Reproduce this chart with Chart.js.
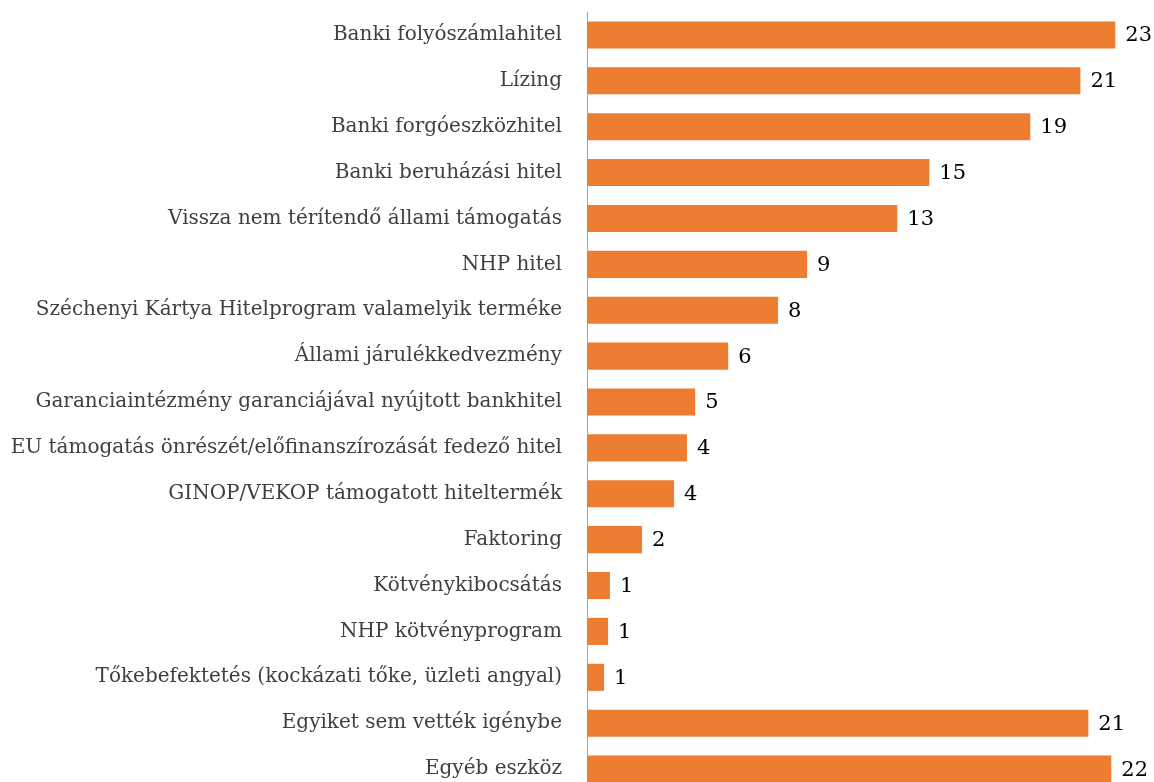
<!DOCTYPE html>
<html>
<head>
<meta charset="utf-8">
<script src="https://cdn.jsdelivr.net/npm/chart.js@4"></script>
<style>
  html, body { margin: 0; padding: 0; background: #fff; overflow: hidden; }
  #wrap { width: 1154px; height: 804px; }
</style>
</head>
<body>
<div id="wrap"><canvas id="chart" width="1154" height="804"></canvas></div>
<script>
// categories, top to bottom
const categories = [
  'Banki folyószámlahitel',
  'Lízing',
  'Banki forgóeszközhitel',
  'Banki beruházási hitel',
  'Vissza nem térítendő állami támogatás',
  'NHP hitel',
  'Széchenyi Kártya Hitelprogram valamelyik terméke',
  'Állami járulékkedvezmény',
  'Garanciaintézmény garanciájával nyújtott bankhitel',
  'EU támogatás önrészét/előfinanszírozását fedező hitel',
  'GINOP/VEKOP támogatott hiteltermék',
  'Faktoring',
  'Kötvénykibocsátás',
  'NHP kötvényprogram',
  'Tőkebefektetés (kockázati tőke, üzleti angyal)',
  'Egyiket sem vették igénybe',
  'Egyéb eszköz'
];

// values (labels show rounded values)
const values = [22.56, 21.07, 18.93, 14.62, 13.25, 9.40, 8.16, 6.03, 4.62, 4.27, 3.72, 2.35, 0.98, 0.90, 0.73, 21.41, 22.39];

const barColor = '#ED7D31';

// draws rounded value labels right of each bar
const valueLabels = {
  id: 'valueLabels',
  afterDatasetsDraw(chart) {
    const ctx = chart.ctx;
    const meta = chart.getDatasetMeta(0);
    ctx.save();
    ctx.font = '21px "DejaVu Serif", serif';
    ctx.fillStyle = '#000000';
    ctx.textAlign = 'left';
    ctx.textBaseline = 'middle';
    meta.data.forEach((bar, i) => {
      ctx.fillText(Math.round(values[i]).toString(), bar.x + 10, bar.y + 1);
    });
    ctx.restore();
  }
};

new Chart(document.getElementById('chart').getContext('2d'), {
  type: 'bar',
  data: {
    labels: categories,
    datasets: [{
      data: values,
      backgroundColor: barColor,
      borderWidth: 0,
      barPercentage: 0.59,
      categoryPercentage: 1.0
    }]
  },
  options: {
    indexAxis: 'y',
    responsive: false,
    animation: false,
    layout: { padding: { top: 9, right: 5, left: 0, bottom: 10 } },
    plugins: {
      legend: { display: false },
      tooltip: { enabled: false }
    },
    scales: {
      x: {
        display: false,
        min: 0,
        max: 24
      },
      y: {
        afterFit(scale) { scale.width = 587; },
        grid: { display: false, drawTicks: true, tickLength: 25 },
        border: { display: true, color: '#A6A6A6', width: 1 },
        ticks: {
          padding: 0,
          color: '#404040',
          font: { family: '"DejaVu Serif", serif', size: 20 }
        }
      }
    }
  },
  plugins: [valueLabels]
});
</script>
</body>
</html>
